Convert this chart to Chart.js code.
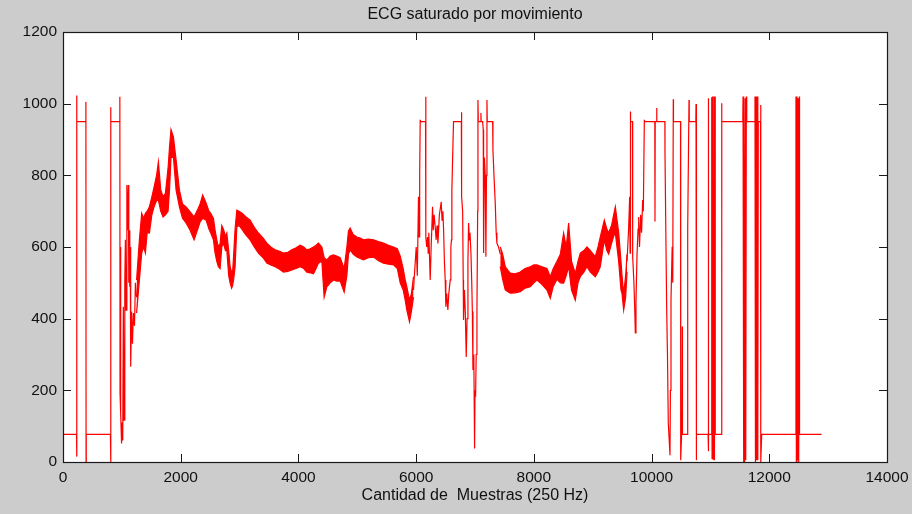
<!DOCTYPE html>
<html>
<head>
<meta charset="utf-8">
<title>ECG saturado por movimiento</title>
<script src="https://cdn.jsdelivr.net/npm/chart.js@4.4.1/dist/chart.umd.min.js"></script>
<style>
  html, body { margin: 0; padding: 0; background: #cccccc; }
  canvas { display: block; }
</style>
</head>
<body>
<canvas id="ecg" width="912" height="514"></canvas>
<script>
// Axis ticks
const xTicks = [0, 2000, 4000, 6000, 8000, 10000, 12000, 14000];
const yTicks = [0, 200, 400, 600, 800, 1000, 1200];
const chartTitle = 'ECG saturado por movimiento';

// Saturated start and recovery: [sample, value]
const leadIn = [
  [0,77],[230,77],[232,1023],[234,15],[236,950],[386,950],[389,1005],[392,0],[395,77],
  [806,77],[809,990],[812,0],[815,950],[962,950],[966,1019],[969,192],[975,600],[985,136],
  [995,52],[1003,110],[1015,60],[1025,433],[1037,117],[1050,500],[1060,620],[1071,424],
  [1085,773],[1100,647],[1110,773],[1118,500],[1128,647],[1135,489],[1142,600],[1150,266],
  [1165,420],[1180,330],[1196,416],[1215,380],[1230,500],[1250,460]
];

// Dense ECG stretch: [sample, upper, lower]
const bandEarly = [
  [1250,508,416],[1298,620,508],[1337,694,583],[1370,680,600],[1400,694,583],[1430,700,640],
  [1468,712,639],[1510,740,690],[1547,767,712],[1590,800,730],[1621,838,731],[1660,760,700],
  [1700,740,684],[1740,750,690],[1785,820,700],[1810,880,760],[1835,928,850],[1876,907,851],
  [1921,843,759],[1978,759,712],[2030,720,680],[2091,712,667],[2150,700,650],[2227,684,620],
  [2290,705,650],[2329,720,670],[2374,745,680],[2431,723,675],[2480,700,650],[2510,694,639],
  [2556,680,620],[2584,647,583],[2613,620,560],[2640,600,545],[2669,610,540],[2698,660,600],
  [2726,650,611],[2760,630,590],[2783,639,592],[2815,590,520],[2839,545,500],[2865,530,485],
  [2878,520,490],[2900,580,510],[2924,650,545],[2953,703,656],[2990,700,660],[3038,695,650],
  [3100,685,635],[3179,675,620],[3250,655,600],[3320,639,583],[3400,625,570],[3463,611,555],
  [3530,600,550],[3604,592,545],[3680,588,538],[3745,583,530],[3820,585,532],[3888,592,536],
  [3960,598,540],[4029,605,545],[4090,600,540],[4143,592,530],[4200,595,528],[4255,600,525],
  [4300,605,540],[4340,611,555],[4398,600,560],[4437,570,460],[4483,564,489],[4540,575,500],
  [4596,578,508],[4650,575,505],[4709,570,505],[4777,540,474],[4823,600,520],[4850,645,580],
  [4879,653,592],[4930,635,580],[4993,628,572],[5050,625,568],[5106,620,564],[5190,622,570],
  [5276,620,572],[5360,615,562],[5446,611,555],[5530,605,552],[5616,600,550],[5680,595,540],
  [5729,575,500],[5780,540,480],[5814,508,452],[5842,489,424],[5887,452,391],[5920,470,420],
  [5955,517,460]
];

// Movement burst in the middle: [sample, value]
const midBurst = [
  [5955,480],[6001,600],[6020,520],[6040,740],[6050,628],[6060,800],[6069,955],[6072,950],
  [6160,950],[6163,1019],[6166,628],[6180,600],[6194,628],[6205,583],[6215,640],[6239,508],
  [6255,600],[6279,712],[6290,647],[6305,690],[6324,656],[6340,620],[6355,660],[6370,610],
  [6395,690],[6426,726],[6440,675],[6455,700],[6466,650],[6480,560],[6494,508],[6505,433],
  [6520,470],[6539,424],[6555,470],[6579,508],[6590,600],[6600,620],[6607,759],[6620,850],
  [6635,950],[6768,950],[6771,976],[6774,740],[6790,700],[6800,508],[6805,396],[6820,480],
  [6835,420],[6851,293],[6865,400],[6880,560],[6891,667],[6905,620],[6915,640],[6931,583],
  [6945,500],[6955,420],[6965,257],[6980,300],[6993,38],[7000,200],[7010,182],[7020,300],
  [7033,416],[7045,700],[7050,1010],[7056,950],[7098,950],[7101,974],[7104,950],[7130,950],
  [7140,927],[7146,583],[7160,850],[7175,796],[7185,573],[7195,800],[7203,1010],[7208,950],
  [7300,950],[7305,870],[7325,790],[7344,723],[7360,640],[7372,611],[7400,600],[7429,580]
];

// Second dense stretch: [sample, upper, lower]
const bandLate = [
  [7429,600,545],[7470,580,510],[7514,545,480],[7560,535,475],[7599,527,471],[7680,525,472],
  [7769,530,475],[7850,540,485],[7939,545,489],[8000,550,500],[8053,550,508],[8140,545,495],
  [8223,540,480],[8279,517,457],[8330,540,490],[8393,560,510],[8450,580,500],[8506,639,499],
  [8550,600,520],[8591,667,545],[8640,560,480],[8704,526,452],[8750,560,500],[8789,583,517],
  [8850,590,530],[8902,600,545],[8960,590,530],[9044,573,517],[9090,600,530],[9129,628,545],
  [9197,675,620],[9240,650,590],[9271,640,580],[9320,660,610],[9356,690,630],[9384,712,640],
  [9441,640,560],[9480,560,480],[9498,520,470],[9526,470,424],[9560,520,460],[9583,580,530]
];

// Saturated end of the record: [sample, value]
const tailBurst = [
  [9583,560],[9610,650],[9628,740],[9635,583],[9639,978],[9645,950],[9676,950],[9679,573],
  [9700,500],[9715,420],[9724,360],[9735,450],[9753,580],[9770,650],[9781,684],[9795,600],
  [9815,690],[9830,640],[9849,731],[9860,700],[9877,955],[9880,950],[10055,950],[10058,671],
  [10062,950],[10084,950],[10087,988],[10090,950],[10226,950],[10228,862],[10245,600],
  [10257,424],[10270,300],[10284,108],[10300,60],[10313,19],[10320,200],[10330,452],
  [10350,601],[10360,500],[10369,1012],[10372,950],[10492,950],[10495,5],[10515,100],
  [10522,378],[10525,77],[10610,77],[10614,652],[10636,1010],[10640,950],[10752,950],
  [10755,999],[10758,5],[10766,77],[10960,77],[10962,1015],[10965,30],[10969,1010],
  [10972,77],[11020,77],[11022,1018],[11028,10],[11035,1020],[11045,8],[11058,1020],
  [11068,5],[11078,1020],[11082,77],[11188,77],[11191,1001],[11194,950],[11550,950],
  [11554,1020],[11560,0],[11570,1020],[11580,0],[11590,1015],[11600,5],[11610,1020],
  [11617,950],[11755,950],[11757,1020],[11765,0],[11775,1020],[11785,5],[11795,1020],
  [11805,5],[11813,950],[11850,950],[11854,996],[11857,0],[11871,77],[12450,77],
  [12453,1020],[12460,0],[12470,1020],[12480,5],[12490,1015],[12500,0],[12510,1020],
  [12514,77],[12890,77]
];

const RED = 'rgb(255,0,0)';
const INK = '#111111';
const FONT = '"Liberation Sans", Arial, Helvetica, sans-serif';

const pts = arr => arr.map(([s, v]) => ({ x: s, y: v }));
const upper = arr => arr.map(([s, hi]) => ({ x: s, y: hi }));
const lower = arr => arr.map(([s, , lo]) => ({ x: s, y: lo }));

const lineStyle = {
  borderColor: RED,
  backgroundColor: RED,
  borderWidth: 1.2,
  pointRadius: 0,
  tension: 0,
  fill: false
};

// Grey figure background, white axes, title over the axes, inward-ticked box
const matlabFrame = {
  id: 'matlabFrame',
  beforeDraw(chart) {
    const { ctx, chartArea: a } = chart;
    ctx.save();
    ctx.fillStyle = '#cccccc';
    ctx.fillRect(0, 0, chart.width, chart.height);
    ctx.fillStyle = '#ffffff';
    ctx.fillRect(a.left, a.top, a.right - a.left, a.bottom - a.top);
    ctx.restore();
  },
  afterDraw(chart) {
    const { ctx, chartArea: a, scales } = chart;
    const tick = 8;
    ctx.save();
    ctx.strokeStyle = '#1a1a1a';
    ctx.lineWidth = 1;
    ctx.beginPath();
    xTicks.forEach(v => {
      const px = Math.round(scales.x.getPixelForValue(v)) + 0.5;
      ctx.moveTo(px, a.bottom); ctx.lineTo(px, a.bottom - tick);
      ctx.moveTo(px, a.top); ctx.lineTo(px, a.top + tick);
    });
    yTicks.forEach(v => {
      const py = Math.round(scales.y.getPixelForValue(v)) + 0.5;
      ctx.moveTo(a.left, py); ctx.lineTo(a.left + tick, py);
      ctx.moveTo(a.right, py); ctx.lineTo(a.right - tick, py);
    });
    ctx.stroke();
    ctx.lineWidth = 1.2;
    ctx.strokeRect(Math.round(a.left) + 0.5, Math.round(a.top) + 0.5,
                   Math.round(a.right - a.left), Math.round(a.bottom - a.top));
    ctx.fillStyle = INK;
    ctx.font = '16px ' + FONT;
    ctx.textAlign = 'center';
    ctx.textBaseline = 'middle';
    ctx.fillText(chartTitle, (a.left + a.right) / 2, 15);
    ctx.restore();
  }
};

new Chart(document.getElementById('ecg'), {
  type: 'line',
  data: {
    datasets: [
      Object.assign({}, lineStyle, { data: upper(bandEarly), fill: '+1' }),
      Object.assign({}, lineStyle, { data: lower(bandEarly) }),
      Object.assign({}, lineStyle, { data: upper(bandLate), fill: '+1' }),
      Object.assign({}, lineStyle, { data: lower(bandLate) }),
      Object.assign({}, lineStyle, { data: pts(leadIn) }),
      Object.assign({}, lineStyle, { data: pts(midBurst) }),
      Object.assign({}, lineStyle, { data: pts(tailBurst) })
    ]
  },
  options: {
    responsive: false,
    devicePixelRatio: 1,
    animation: false,
    events: [],
    layout: { padding: { left: 0, right: 25, top: 32, bottom: 0 } },
    plugins: {
      legend: { display: false },
      tooltip: { enabled: false },
      title: { display: false }
    },
    scales: {
      x: {
        type: 'linear',
        min: 0,
        max: 14000,
        afterBuildTicks: s => { s.ticks = xTicks.map(v => ({ value: v })); },
        afterFit: s => { s.height = 52; s.paddingLeft = 0; s.paddingRight = 0; },
        grid: { display: false, drawTicks: false },
        border: { display: false },
        ticks: {
          color: INK,
          padding: 6,
          maxRotation: 0,
          callback: v => String(v),
          font: { family: FONT, size: 15.5 }
        },
        title: {
          display: true,
          text: 'Cantidad de  Muestras (250 Hz)',
          color: INK,
          font: { family: FONT, size: 16 },
          padding: { top: 0, bottom: 9 }
        }
      },
      y: {
        type: 'linear',
        min: 0,
        max: 1200,
        afterBuildTicks: s => { s.ticks = yTicks.map(v => ({ value: v })); },
        afterFit: s => { s.width = 63; s.paddingTop = 0; s.paddingBottom = 0; },
        grid: { display: false, drawTicks: false },
        border: { display: false },
        ticks: {
          color: INK,
          padding: 6,
          callback: v => String(v),
          font: { family: FONT, size: 15.5 }
        }
      }
    }
  },
  plugins: [matlabFrame]
});
</script>
</body>
</html>
